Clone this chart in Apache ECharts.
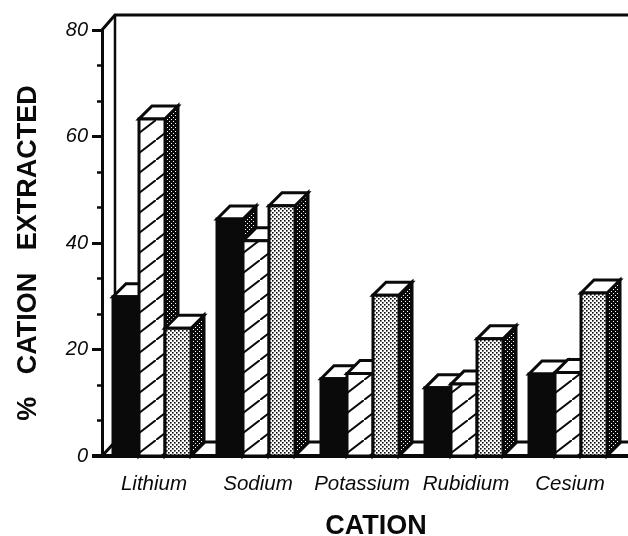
<!DOCTYPE html>
<html><head><meta charset="utf-8">
<style>html,body{margin:0;padding:0;background:#fff}#c{width:628px;height:536px}</style>
<script src="https://cdn.jsdelivr.net/npm/echarts@6/dist/echarts.min.js"></script>
</head><body><div id="c"></div>
<script>
const categories = ['Lithium', 'Sodium', 'Potassium', 'Rubidium', 'Cesium'];
const blackValues = [29.9, 44.5, 14.5, 12.8, 15.4];
const hatchedValues = [63.3, 40.4, 15.5, 13.5, 15.7];
const dottedValues = [24, 47, 30.2, 22, 30.6];

const INK = '#0a0a0a', DEPTH = 13, BAR = 26, START = -41;

function tile(w, h, draw) {
  const c = document.createElement('canvas'); c.width = w; c.height = h;
  const g = c.getContext('2d'); g.fillStyle = '#fff'; g.fillRect(0, 0, w, h); g.fillStyle = INK; g.strokeStyle = INK;
  draw(g); return { type: 'pattern', image: c, repeat: 'repeat' };
}
const hatch = tile(26, 20, g => {
  g.lineWidth = 2;
  g.beginPath(); g.moveTo(-2.6, 22); g.lineTo(28.6, -2); g.stroke();
});
const dots = tile(4, 4, g => { g.fillRect(0, 0, 1.6, 1.6); g.fillRect(2, 2, 1.6, 1.6); });
const denseDots = tile(4, 4, g => {
  g.fillRect(0, 0, 4, 4); g.fillStyle = '#fff'; g.fillRect(1, 1, 1, 1); g.fillRect(3, 3, 1, 1);
});

function barSeries(name, values, slot, fill) {
  return {
    type: 'custom', name, clip: false, z: 3 + slot, encode: { x: 0, y: 1 },
    data: values.map((v, i) => [i, v]),
    renderItem(params, api) {
      const top = api.coord([api.value(0), api.value(1)]);
      const base = api.coord([api.value(0), 0]);
      const x = top[0] + START + slot * BAR, y = top[1], b = base[1];
      const stroke = { stroke: INK, lineWidth: 3, lineJoin: 'miter' };
      return { type: 'group', children: [
        { type: 'polygon', shape: { points: [[x + BAR, y], [x + BAR + DEPTH, y - DEPTH], [x + BAR + DEPTH, b - DEPTH], [x + BAR, b]] },
          style: Object.assign({ fill: denseDots }, stroke) },
        { type: 'polygon', shape: { points: [[x, y], [x + DEPTH, y - DEPTH], [x + BAR + DEPTH, y - DEPTH], [x + BAR, y]] },
          style: Object.assign({ fill: '#fff' }, stroke) },
        { type: 'rect', shape: { x, y, width: BAR, height: b - y },
          style: Object.assign({ fill }, stroke) }
      ] };
    }
  };
}

const frame = {
  type: 'custom', clip: false, silent: true, z: 1, data: [[0, 0]], encode: { x: 0, y: 1 },
  renderItem(params, api) {
    const w = api.getWidth();
    const o = api.coord([0, 0]), t = api.coord([0, 80]);
    const x0 = t[0] - 52, y0 = o[1], yt = t[1];
    const bx = x0 + 13, topY = yt - 15, floorY = y0 - 14;
    const line = (pts, lw) => ({ type: 'polyline', shape: { points: pts }, style: { stroke: INK, lineWidth: lw, fill: null } });
    return { type: 'group', children: [
      line([[x0, yt], [bx, topY], [w, topY]], 3),
      line([[bx, topY], [bx, floorY]], 2.5),
      line([[x0, y0], [bx, floorY], [w, floorY]], 3),
      line([[x0 - 10, y0], [w, y0]], 4)
    ] };
  }
};

const chart = echarts.init(document.getElementById('c'), null, { renderer: 'canvas' });
chart.setOption({
  animation: false,
  backgroundColor: '#fff',
  grid: { left: 102, top: 30, width: 520, height: 426, outerBoundsMode: 'none' },
  xAxis: {
    type: 'category', data: categories,
    axisLine: { show: false }, axisTick: { show: false },
    axisLabel: { fontFamily: 'Liberation Sans', fontStyle: 'italic', fontSize: 20.5, color: INK, margin: 18, interval: 0, hideOverlap: false },
    name: 'CATION', nameLocation: 'middle', nameGap: 57,
    nameTextStyle: { fontFamily: 'Liberation Sans', fontWeight: 'bold', fontSize: 27, color: INK, padding: [0, 0, 0, 28] }
  },
  yAxis: {
    type: 'value', min: 0, max: 80, interval: 20, splitLine: { show: false },
    axisLine: { show: true, lineStyle: { color: INK, width: 3 } },
    axisTick: { show: true, length: 10, lineStyle: { color: INK, width: 3 } },
    minorTick: { show: true, splitNumber: 3, length: 5, lineStyle: { color: INK, width: 2.5 } },
    axisLabel: { fontFamily: 'Liberation Sans', fontStyle: 'italic', fontSize: 20, color: INK, margin: 14 },
    name: '%   CATION   EXTRACTED', nameLocation: 'middle', nameRotate: 90, nameGap: 60,
    nameTextStyle: { fontFamily: 'Liberation Sans', fontWeight: 'bold', fontSize: 27, color: INK, padding: [0, 20, 0, 0] }
  },
  series: [
    frame,
    barSeries('Black', blackValues, 0, INK),
    barSeries('Hatched', hatchedValues, 1, hatch),
    barSeries('Dotted', dottedValues, 2, dots)
  ]
});
</script></body></html>
